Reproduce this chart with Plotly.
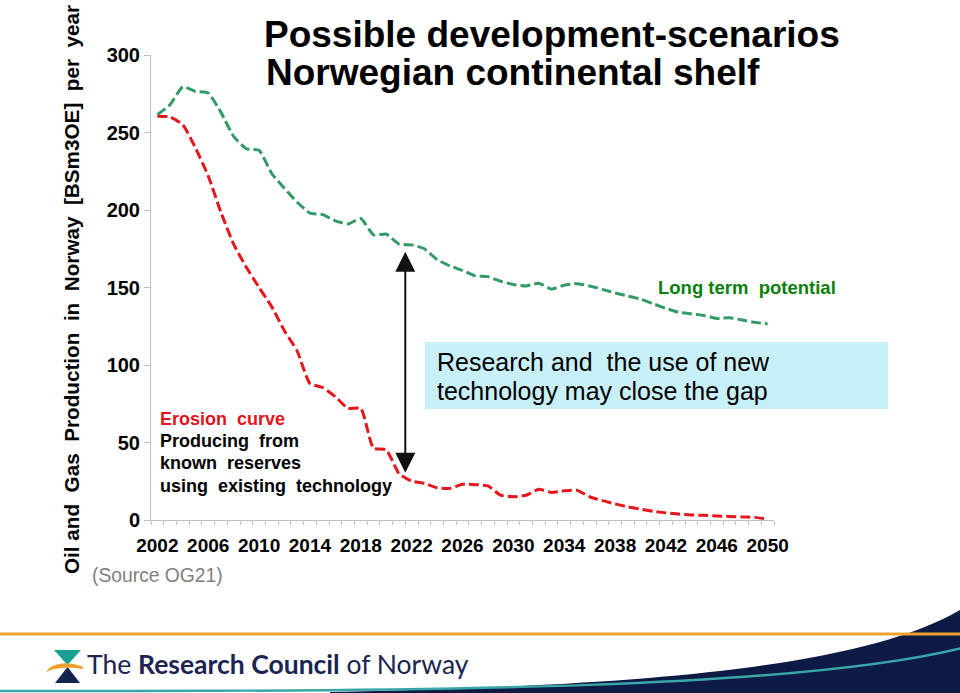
import plotly.graph_objects as go

years = list(range(2002, 2051))
tick_years = [2002, 2006, 2010, 2014, 2018, 2022, 2026, 2030, 2034, 2038, 2042, 2046, 2050]
y_ticks = [0, 50, 100, 150, 200, 250, 300]

long_term_potential = [
    261.5, 268, 279.5, 276.5, 275.5, 263, 247.5, 239.5, 238.5, 223.5,
    214, 205, 198, 197, 193, 191, 194.5, 184, 184.5, 178,
    177.5, 175, 168, 164, 161, 157.5, 157, 154, 152, 151,
    152.7, 149, 151.5, 152.5, 151, 148.8, 146.5, 144.5, 142.5, 139.5,
    136.5, 134, 133, 132, 130, 130.5, 129, 127.5, 126.5,
]
erosion_curve = [
    260.5, 260, 255, 240, 222, 198.5, 178, 163, 150, 137.5,
    122, 109, 88, 85.5, 79.5, 72, 72, 46.3, 45.3, 30,
    25, 23.7, 20.8, 20.4, 23, 22.8, 22, 16, 15, 16,
    19.8, 17.8, 18.8, 19.2, 15, 12.5, 10.4, 8.5, 7, 5.6,
    4.6, 3.8, 3.3, 3, 2.6, 2.3, 2, 1.7, 0.6,
]

W, H = 960, 693
L, R, T, B = 151, 186, 55, 173
PW, PH = W - L - R, H - T - B


def px(x):
    return (x - L) / PW


def py(y):
    return (H - B - y) / PH


FONT = "Liberation Sans, Arial, sans-serif"
GREEN = "#339966"
RED = "#e5161c"
AXIS = "#bfbfbf"

fig = go.Figure()
fig.add_trace(go.Scatter(
    x=years, y=long_term_potential, mode="lines",
    line=dict(color=GREEN, width=3, dash="10px,4px", shape="spline", smoothing=0.5),
    showlegend=False, hoverinfo="skip"))
fig.add_trace(go.Scatter(
    x=years, y=erosion_curve, mode="lines",
    line=dict(color=RED, width=3, dash="10px,4px", shape="spline", smoothing=0.5),
    showlegend=False, hoverinfo="skip"))

shapes = []
# light blue box
shapes.append(dict(type="rect", xref="paper", yref="paper",
                   x0=px(425), x1=px(888), y0=py(409), y1=py(342),
                   fillcolor="#c8f0f8", line=dict(width=0), layer="below"))


def cubic(pts):
    (x0, y0), (x1, y1), (x2, y2), (x3, y3) = pts
    return (f"M{px(x0)},{py(y0)} C{px(x1)},{py(y1)} {px(x2)},{py(y2)} {px(x3)},{py(y3)}")


# navy swoosh
navy_path = (f"M{px(330)},{py(692)} C{px(640)},{py(686)} {px(860)},{py(668)} {px(960)},{py(610)} "
             f"L{px(962)},{py(610)} L{px(962)},{py(695)} L{px(330)},{py(695)} Z")
shapes.append(dict(type="path", xref="paper", yref="paper", path=navy_path,
                   fillcolor="#0c1a44", line=dict(width=0)))
# teal line
shapes.append(dict(type="path", xref="paper", yref="paper",
                   path=cubic([(0, 691), (450, 692), (800, 688), (962, 648)]),
                   line=dict(color="#3aa6a8", width=2.5)))
# orange line
shapes.append(dict(type="line", xref="paper", yref="paper",
                   x0=px(0), x1=px(962), y0=py(634), y1=py(634),
                   line=dict(color="#f0a030", width=3)))
# logo icon
shapes.append(dict(type="path", xref="paper", yref="paper",
                   path=f"M{px(54)},{py(650)} L{px(81)},{py(650)} L{px(67.5)},{py(665)} Z",
                   fillcolor="#17a091", line=dict(width=0)))
shapes.append(dict(type="path", xref="paper", yref="paper",
                   path=f"M{px(67.5)},{py(667)} L{px(80)},{py(683)} L{px(55)},{py(683)} Z",
                   fillcolor="#14254f", line=dict(width=0)))
shapes.append(dict(type="path", xref="paper", yref="paper",
                   path=(f"M{px(83)},{py(667)} C{px(70)},{py(661)} {px(52)},{py(662)} {px(46)},{py(672)} "
                         f"C{px(56)},{py(667)} {px(70)},{py(667)} {px(83)},{py(669)} Z"),
                   fillcolor="#f0a030", line=dict(width=0)))

annotations = []


def txt(text, x, y, size, color="#000000", xanchor="left", bold=False, family=FONT, angle=0):
    annotations.append(dict(
        text=f"<b>{text}</b>" if bold else text,
        xref="paper", yref="paper", x=px(x), y=py(y),
        xanchor=xanchor, yanchor="middle", showarrow=False, textangle=angle,
        font=dict(family=family, size=size, color=color)))


txt("Possible development-scenarios", 262, 34.5, 37, bold=True)
txt("Norwegian continental shelf", 264, 72.5, 37, bold=True)
txt("Oil and  Gas  Production  in  Norway  [BSm3OE]  per  year", 71, 290, 20.7,
    bold=True, xanchor="center", angle=-90)
txt("Long term  potential", 656, 287, 18.5, color="#0a800a", bold=True)
txt("Research and  the use of new", 435, 362, 25)
txt("technology may close the gap", 435, 391, 25)
txt("Erosion  curve", 158, 419, 18, color="#e0141a", bold=True)
txt("Producing  from", 158, 441, 18, bold=True)
txt("known  reserves", 158, 463, 18, bold=True)
txt("using  existing  technology", 158, 486, 18, bold=True)
txt("(Source OG21)", 90, 575, 19.3, color="#7f7f7f")
txt("The <b>Research Council</b> of Norway", 85, 664, 26.5, color="#1b2452",
    family="Lato, Open Sans, sans-serif")

# double-headed arrow across the gap
annotations.append(dict(
    x=2021.5, y=30.5, ax=2021.5, ay=174, xref="x", yref="y", axref="x", ayref="y",
    text="", showarrow=True, arrowhead=2, startarrowhead=2, arrowside="end+start",
    arrowsize=2, startarrowsize=2, arrowwidth=2, arrowcolor="#111111"))

fig.update_layout(
    width=W, height=H,
    margin=dict(l=L, r=R, t=T, b=B, pad=0),
    paper_bgcolor="white", plot_bgcolor="white",
    shapes=shapes, annotations=annotations,
    font=dict(family=FONT, color="#000000"),
    xaxis=dict(
        range=[2001.5, 2050.5], tickmode="array", tickvals=tick_years,
        ticktext=[str(y) for y in tick_years], ticks="", showgrid=False,
        zeroline=False, showline=True, linecolor=AXIS, linewidth=1,
        tickfont=dict(family=FONT, size=19, color="#000000", weight="bold"),
        ticklabelstandoff=8, automargin=False,
        minor=dict(tickmode="array", tickvals=[y - 0.5 for y in years] + [2050.5],
                   ticks="outside", ticklen=4, tickcolor=AXIS, tickwidth=1, showgrid=False),
    ),
    yaxis=dict(
        range=[0, 300], tickmode="array", tickvals=y_ticks, ticks="outside",
        ticklen=6, tickcolor=AXIS, showgrid=False, zeroline=False,
        showline=True, linecolor=AXIS, linewidth=1,
        tickfont=dict(family=FONT, size=20, color="#000000", weight="bold"),
        automargin=False,
    ),
)

fig.write_html("out.html", config={"displayModeBar": False},
               post_script="document.body.style.margin='0px';")
